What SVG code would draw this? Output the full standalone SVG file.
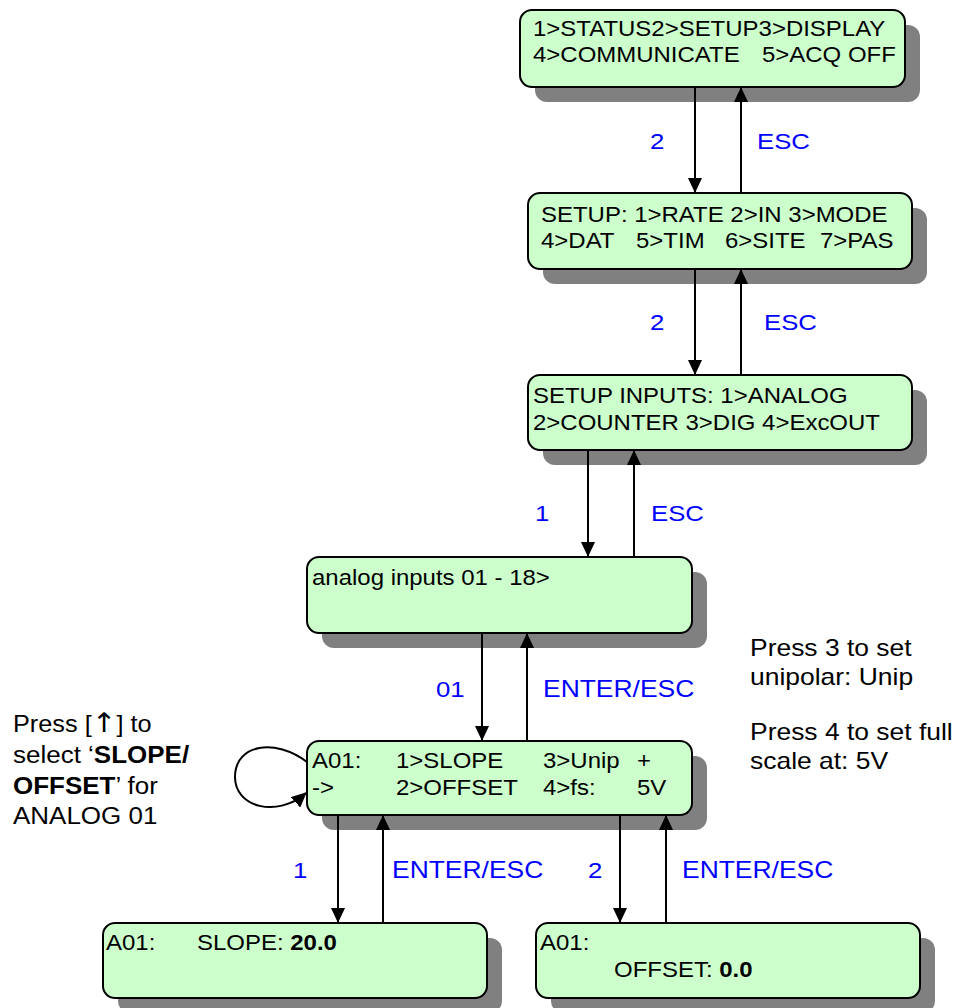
<svg xmlns="http://www.w3.org/2000/svg" width="958" height="1008" viewBox="0 0 958 1008">
  <style>
    .shadow { fill: #808080; }
    .box { fill: #CCFFCC; stroke: #000; stroke-width: 2; }
    .t { font-family: "Liberation Sans", Arial, sans-serif; font-size: 22px; fill: #000; }
    .n { font-family: "Liberation Sans", Arial, sans-serif; font-size: 23px; fill: #000; }
    .lbl { font-family: "Liberation Sans", Arial, sans-serif; font-size: 23px; fill: #0000FF; }
    .b { font-weight: bold; }
    .sym { font-family: "DejaVu Sans", sans-serif; font-size: 27px; }
    .wire { stroke: #000; stroke-width: 2; fill: none; }
  </style>
  <defs>
    <marker id="arrow" markerWidth="15" markerHeight="14" refX="14" refY="7" orient="auto" markerUnits="userSpaceOnUse">
      <path d="M0,0 L15,7 L0,14 Z" fill="#000"/>
    </marker>
  </defs>
  <rect width="958" height="1008" fill="#fff"/>

  <!-- main menu -->
  <g id="main-menu">
    <rect class="shadow" x="535" y="25" width="385" height="77" rx="12"/>
    <rect class="box" x="520" y="10" width="385" height="77" rx="12"/>
    <text class="t" transform="translate(533 36) scale(1.09 1)">1&gt;STATUS2&gt;SETUP3&gt;DISPLAY</text>
    <text class="t" transform="translate(533 62) scale(1.09 1)">4&gt;COMMUNICATE</text>
    <text class="t" transform="translate(762 62) scale(1.09 1)">5&gt;ACQ OFF</text>
  </g>

  <!-- setup menu -->
  <g id="setup-menu">
    <rect class="shadow" x="543" y="208" width="384" height="76" rx="12"/>
    <rect class="box" x="528" y="193" width="384" height="76" rx="12"/>
    <text class="t" transform="translate(541 222) scale(1.09 1)">SETUP: 1&gt;RATE 2&gt;IN 3&gt;MODE</text>
    <text class="t" transform="translate(541 248) scale(1.09 1)">4&gt;DAT</text>
    <text class="t" transform="translate(636 248) scale(1.09 1)">5&gt;TIM</text>
    <text class="t" transform="translate(725 248) scale(1.09 1)">6&gt;SITE</text>
    <text class="t" transform="translate(820 248) scale(1.09 1)">7&gt;PAS</text>
  </g>

  <!-- setup inputs menu -->
  <g id="setup-inputs">
    <rect class="shadow" x="543" y="390" width="384" height="75" rx="12"/>
    <rect class="box" x="528" y="375" width="384" height="75" rx="12"/>
    <text class="t" transform="translate(533 403) scale(1.09 1)">SETUP INPUTS: 1&gt;ANALOG</text>
    <text class="t" transform="translate(533 430) scale(1.09 1)">2&gt;COUNTER 3&gt;DIG 4&gt;ExcOUT</text>
  </g>

  <!-- analog inputs list -->
  <g id="analog-inputs">
    <rect class="shadow" x="322" y="572" width="385" height="76" rx="12"/>
    <rect class="box" x="307" y="557" width="385" height="76" rx="12"/>
    <text class="t" transform="translate(312 585) scale(1.09 1)">analog inputs 01 - 18&gt;</text>
  </g>

  <!-- channel A01 menu -->
  <g id="a01-menu">
    <rect class="shadow" x="322" y="756" width="385" height="74" rx="12"/>
    <rect class="box" x="307" y="741" width="385" height="74" rx="12"/>
    <text class="t" transform="translate(312 768) scale(1.09 1)">A01:</text>
    <text class="t" transform="translate(396 768) scale(1.09 1)">1&gt;SLOPE</text>
    <text class="t" transform="translate(543 768) scale(1.09 1)">3&gt;Unip</text>
    <text class="t" transform="translate(637 768) scale(1.09 1)">+</text>
    <text class="t" transform="translate(312 795) scale(1.09 1)">-&gt;</text>
    <text class="t" transform="translate(396 795) scale(1.09 1)">2&gt;OFFSET</text>
    <text class="t" transform="translate(543 795) scale(1.09 1)">4&gt;fs:</text>
    <text class="t" transform="translate(637 795) scale(1.09 1)">5V</text>
  </g>

  <!-- slope entry -->
  <g id="a01-slope">
    <rect class="shadow" x="118" y="938" width="384" height="75" rx="12"/>
    <rect class="box" x="103" y="923" width="384" height="75" rx="12"/>
    <text class="t" transform="translate(106 950) scale(1.09 1)">A01:</text>
    <text class="t" transform="translate(197 950) scale(1.09 1)">SLOPE: <tspan class="b">20.0</tspan></text>
  </g>

  <!-- offset entry -->
  <g id="a01-offset">
    <rect class="shadow" x="551" y="938" width="384" height="75" rx="12"/>
    <rect class="box" x="536" y="923" width="384" height="75" rx="12"/>
    <text class="t" transform="translate(540 950) scale(1.09 1)">A01:</text>
    <text class="t" transform="translate(614 977) scale(1.09 1)">OFFSET: <tspan class="b">0.0</tspan></text>
  </g>

  <!-- notes -->
  <g id="note-scroll">
    <text class="n" transform="translate(13 732) scale(1.1 1)">Press [<tspan class="sym">↑</tspan>] to</text>
    <text class="n" transform="translate(13 763) scale(1.13 1)">select ‘<tspan class="b">SLOPE/</tspan></text>
    <text class="n" transform="translate(13 794) scale(1.13 1)"><tspan class="b">OFFSET</tspan>’ for</text>
    <text class="n" transform="translate(13 824) scale(1.13 1)">ANALOG 01</text>
  </g>
  <g id="note-keys">
    <text class="n" transform="translate(750 656) scale(1.15 1)">Press 3 to set</text>
    <text class="n" transform="translate(750 685) scale(1.15 1)">unipolar: Unip</text>
    <text class="n" transform="translate(750 740) scale(1.15 1)">Press 4 to set full</text>
    <text class="n" transform="translate(750 769) scale(1.15 1)">scale at: 5V</text>
  </g>

  <!-- connectors -->
  <g id="connectors">
    <line class="wire" x1="695" y1="87" x2="695" y2="192" marker-end="url(#arrow)"/>
    <line class="wire" x1="741" y1="193" x2="741" y2="88" marker-end="url(#arrow)"/>
    <line class="wire" x1="695" y1="269" x2="695" y2="374" marker-end="url(#arrow)"/>
    <line class="wire" x1="741" y1="375" x2="741" y2="270" marker-end="url(#arrow)"/>
    <line class="wire" x1="588" y1="450" x2="588" y2="556" marker-end="url(#arrow)"/>
    <line class="wire" x1="634" y1="557" x2="634" y2="451" marker-end="url(#arrow)"/>
    <line class="wire" x1="482" y1="633" x2="482" y2="740" marker-end="url(#arrow)"/>
    <line class="wire" x1="527" y1="741" x2="527" y2="634" marker-end="url(#arrow)"/>
    <line class="wire" x1="338" y1="815" x2="338" y2="922" marker-end="url(#arrow)"/>
    <line class="wire" x1="383" y1="923" x2="383" y2="816" marker-end="url(#arrow)"/>
    <line class="wire" x1="620" y1="815" x2="620" y2="922" marker-end="url(#arrow)"/>
    <line class="wire" x1="666" y1="923" x2="666" y2="816" marker-end="url(#arrow)"/>
    <path class="wire" d="M307,762 C275,738 236,744 235,776 C234,808 278,818 306,793" marker-end="url(#arrow)"/>
  </g>

  <!-- key labels -->
  <g id="labels">
    <text class="lbl" transform="translate(650 149) scale(1.12 1)">2</text>
    <text class="lbl" transform="translate(757 149) scale(1.12 1)">ESC</text>
    <text class="lbl" transform="translate(650 330) scale(1.12 1)">2</text>
    <text class="lbl" transform="translate(764 330) scale(1.12 1)">ESC</text>
    <text class="lbl" transform="translate(535 521) scale(1.12 1)">1</text>
    <text class="lbl" transform="translate(651 521) scale(1.12 1)">ESC</text>
    <text class="lbl" transform="translate(436 697) scale(1.12 1)">01</text>
    <text class="lbl" transform="translate(543 697) scale(1.15 1)">ENTER/ESC</text>
    <text class="lbl" transform="translate(293 878) scale(1.12 1)">1</text>
    <text class="lbl" transform="translate(392 878) scale(1.15 1)">ENTER/ESC</text>
    <text class="lbl" transform="translate(588 878) scale(1.12 1)">2</text>
    <text class="lbl" transform="translate(682 878) scale(1.15 1)">ENTER/ESC</text>
  </g>
</svg>
